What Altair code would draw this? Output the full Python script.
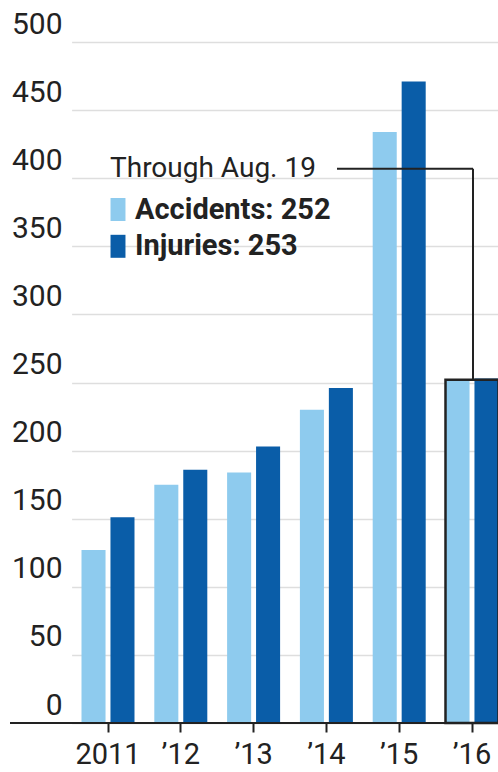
import altair as alt
import pandas as pd

years = ["2011", "’12", "’13", "’14", "’15", "’16"]
accidents = [127, 175, 184, 230, 434, 252]
injuries = [151, 186, 203, 246, 471, 253]
series = ["Accidents", "Injuries"]
colors = ["#8ecbee", "#0a5da8"]
y_ticks = [0, 50, 100, 150, 200, 250, 300, 350, 400, 450, 500]

rows = []
for y, a, i in zip(years, accidents, injuries):
    rows.append({"year": y, "series": "Accidents", "value": a})
    rows.append({"year": y, "series": "Injuries", "value": i})
df = pd.DataFrame(rows)
one = pd.DataFrame({"k": [0]})

FONT = "Roboto"
W, H = 488, 681

xscale = alt.Scale(domain=years, range=[61.6, 498.4], paddingInner=0.272, paddingOuter=0.136)
yscale = alt.Scale(domain=[0, 500], nice=False, zero=True)
cscale = alt.Scale(domain=series, range=colors)

bars = alt.Chart(df).mark_bar().encode(
    x=alt.X("year:N", sort=years, scale=xscale,
            axis=alt.Axis(title=None, domain=False, grid=False, labelAngle=0,
                          tickColor="#222", tickSize=9, tickWidth=2,
                          labelFont=FONT, labelFontSize=29, labelColor="#222",
                          labelPadding=8)),
    xOffset=alt.XOffset("series:N", sort=series,
                        scale=alt.Scale(paddingInner=0.17, paddingOuter=0)),
    y=alt.Y("value:Q", scale=yscale,
            axis=alt.Axis(title=None, values=y_ticks, domain=False, ticks=False,
                          grid=True, gridColor="#dedede", gridWidth=1.5,
                          labelFont=FONT, labelFontSize=30, labelColor="#222",
                          labelAlign="right", labelPadding=-52,
                          labelBaseline="alphabetic", labelOffset=-9)),
    color=alt.Color("series:N", sort=series, scale=cscale, legend=None),
)

baseline = alt.Chart(one).mark_rule(color="#222", strokeWidth=2).encode(
    y=alt.datum(0), x=alt.value(0), x2=alt.value(W)
)

box_df = pd.DataFrame({"year": [years[-1]], "top": [accidents[-1]], "bottom": [0]})
box = alt.Chart(box_df).mark_rect(fillOpacity=0, stroke="#222", strokeWidth=2.5).encode(
    x=alt.X("year:N", sort=years, scale=xscale),
    y=alt.Y("top:Q", scale=yscale),
    y2="bottom:Q",
)

hline = alt.Chart(one).mark_rule(color="#222", strokeWidth=2).encode(
    y=alt.datum(407), x=alt.value(327), x2=alt.value(463)
)
vline = alt.Chart(one).mark_rule(color="#222", strokeWidth=2).encode(
    x=alt.value(463), y=alt.datum(407), y2=alt.datum(252)
)

note = alt.Chart(one).mark_text(
    text="Through Aug. 19", font=FONT, fontSize=28, color="#222",
    align="left", baseline="alphabetic"
).encode(x=alt.value(100), y=alt.datum(401))

leg_df = pd.DataFrame({
    "series": series,
    "label": [f"Accidents: {accidents[-1]}", f"Injuries: {injuries[-1]}"],
    "pos": [377, 350],
})
leg_sq = alt.Chart(leg_df).mark_point(
    shape="M-0.65,-1L0.65,-1L0.65,1L-0.65,1Z", filled=True, opacity=1, size=529
).encode(
    x=alt.value(108),
    y=alt.Y("pos:Q", scale=yscale),
    color=alt.Color("series:N", scale=cscale, legend=None),
)
leg_tx = alt.Chart(leg_df).mark_text(
    font=FONT, fontSize=29, fontWeight="bold", color="#222",
    align="left", baseline="middle"
).encode(
    x=alt.value(125),
    y=alt.Y("pos:Q", scale=yscale),
    text="label:N",
)

chart = alt.layer(bars, baseline, box, hline, vline, note, leg_sq, leg_tx).properties(
    width=W, height=H,
    padding={"left": 10, "top": 42, "right": 0, "bottom": 49},
    autosize=alt.AutoSizeParams(type="none"),
    background="white",
).configure_view(stroke=None)

chart.save("out.html", embed_options={"renderer": "svg", "actions": False})
